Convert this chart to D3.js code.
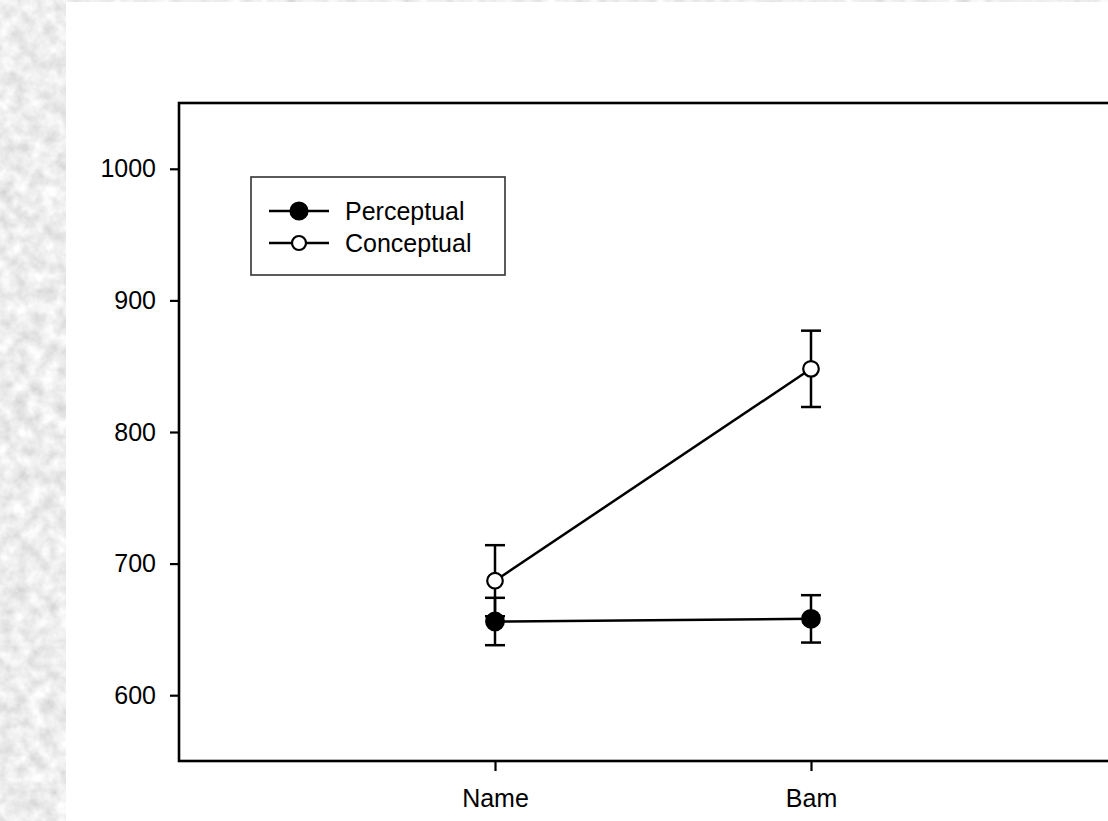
<!DOCTYPE html>
<html>
<head>
<meta charset="utf-8">
<script src="https://cdn.jsdelivr.net/npm/d3@7"></script>
<style>
  html, body { margin: 0; padding: 0; background: #fff; }
  svg { display: block; }
  text { font-family: Arial, "Liberation Sans", sans-serif; fill: #000; }
</style>
</head>
<body>
<svg id="chart" width="1108" height="821"></svg>
<script>
// Reaction times by task type and cue condition
const categories = ["Name", "Bam"];
const perceptualValues = [656, 658];
const perceptualErrors = [18, 18];
const conceptualValues = [687, 848];
const conceptualErrors = [27, 29];
const yTicks = [600, 700, 800, 900, 1000];
const seriesNames = ["Perceptual", "Conceptual"];

const W = 1108, H = 821;
const frame = { left: 179, top: 103, right: 1127, bottom: 761 };

const svg = d3.select("#chart");

// granite-like slide background
const defs = svg.append("defs");
const f = defs.append("filter").attr("id", "granite")
  .attr("x", 0).attr("y", 0).attr("width", "100%").attr("height", "100%");
f.append("feTurbulence").attr("type", "fractalNoise")
  .attr("baseFrequency", 0.07).attr("numOctaves", 3).attr("seed", 7).attr("result", "n");
f.append("feColorMatrix").attr("in", "n").attr("type", "matrix")
  .attr("values", "0.5 0 0 0 0.6  0.5 0 0 0 0.6  0.5 0 0 0 0.6  0 0 0 0 1");

svg.append("rect").attr("width", W).attr("height", H).attr("filter", "url(#granite)");
svg.append("rect").attr("x", 66).attr("y", 2).attr("width", W - 66).attr("height", H - 2)
  .attr("fill", "#fff");

const x = d3.scalePoint().domain(categories)
  .range([frame.left, frame.right]).padding(1);
const y = d3.scaleLinear().domain([550, 1050]).range([frame.bottom, frame.top]);

// plot frame (right edge runs past the page)
svg.append("rect")
  .attr("x", frame.left).attr("y", frame.top)
  .attr("width", frame.right - frame.left).attr("height", frame.bottom - frame.top)
  .attr("fill", "none").attr("stroke", "#000").attr("stroke-width", 2.6);

// y axis
const yAxis = svg.append("g")
  .attr("transform", `translate(${frame.left},0)`)
  .call(d3.axisLeft(y).tickValues(yTicks).tickSize(9).tickPadding(14).tickFormat(d3.format("d")));
yAxis.select(".domain").remove();
yAxis.selectAll(".tick line").attr("stroke", "#000").attr("stroke-width", 2.2);
yAxis.selectAll(".tick text").attr("font-size", 25).attr("font-family", "Arial, 'Liberation Sans', sans-serif")
  .attr("fill", "#111");

// x axis
const xAxis = svg.append("g")
  .attr("transform", `translate(0,${frame.bottom})`)
  .call(d3.axisBottom(x).tickSize(10).tickPadding(18));
xAxis.select(".domain").remove();
xAxis.selectAll(".tick line").attr("stroke", "#000").attr("stroke-width", 2.2);
xAxis.selectAll(".tick text").attr("font-size", 25).attr("font-family", "Arial, 'Liberation Sans', sans-serif")
  .attr("fill", "#111");

const series = [
  { name: seriesNames[0], values: perceptualValues, errors: perceptualErrors, fill: "#000" },
  { name: seriesNames[1], values: conceptualValues, errors: conceptualErrors, fill: "#fff" }
];

const line = d3.line().x(d => x(d.cat)).y(d => y(d.v));

series.forEach(s => {
  const pts = categories.map((c, i) => ({ cat: c, v: s.values[i], e: s.errors[i] }));
  const g = svg.append("g");
  g.append("path").datum(pts).attr("d", line)
    .attr("fill", "none").attr("stroke", "#000").attr("stroke-width", 2.5);
  const eb = g.selectAll(".eb").data(pts).join("g");
  eb.append("line")
    .attr("x1", d => x(d.cat)).attr("x2", d => x(d.cat))
    .attr("y1", d => y(d.v + d.e)).attr("y2", d => y(d.v - d.e))
    .attr("stroke", "#000").attr("stroke-width", 2.5);
  [1, -1].forEach(sign => {
    eb.append("line")
      .attr("x1", d => x(d.cat) - 10).attr("x2", d => x(d.cat) + 10)
      .attr("y1", d => y(d.v + sign * d.e)).attr("y2", d => y(d.v + sign * d.e))
      .attr("stroke", "#000").attr("stroke-width", 2.5);
  });
  s.group = g;
  s.pts = pts;
});

// markers on top of all bars
series.forEach(s => {
  s.group.selectAll(".pt").data(s.pts).join("circle")
    .attr("cx", d => x(d.cat)).attr("cy", d => y(d.v))
    .attr("r", s.fill === "#000" ? 8.8 : 7.8)
    .attr("fill", s.fill).attr("stroke", "#000").attr("stroke-width", 2.2);
});

// legend
const lg = svg.append("g");
lg.append("rect").attr("x", 251).attr("y", 177).attr("width", 254).attr("height", 98)
  .attr("fill", "#fff").attr("stroke", "#333").attr("stroke-width", 1.6);
series.forEach((s, i) => {
  const cy = 211 + i * 32;
  lg.append("line").attr("x1", 269).attr("x2", 329).attr("y1", cy).attr("y2", cy)
    .attr("stroke", "#000").attr("stroke-width", 2.5);
  lg.append("circle").attr("cx", 299).attr("cy", cy).attr("r", s.fill === "#000" ? 8.5 : 7)
    .attr("fill", s.fill).attr("stroke", "#000").attr("stroke-width", 2.2);
  lg.append("text").attr("x", 345).attr("y", cy).attr("dy", "0.36em")
    .attr("font-size", 25).attr("fill", "#111").text(s.name);
});
</script>
</body>
</html>
